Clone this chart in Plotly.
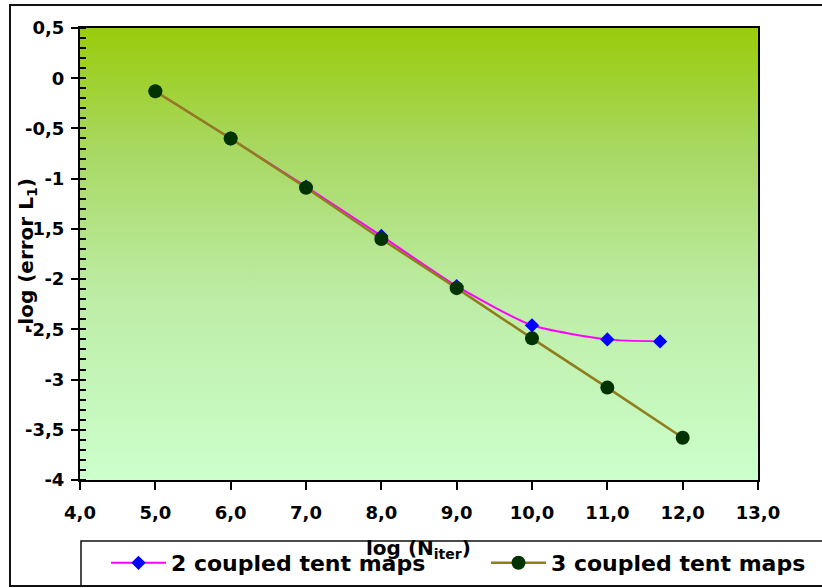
import plotly.graph_objects as go

# ---- data ----
x_two = [5.0, 6.0, 7.0, 8.0, 9.0, 10.0, 11.0, 11.7]
y_two = [-0.13, -0.60, -1.08, -1.57, -2.07, -2.46, -2.60, -2.62]
x_three = [5.0, 6.0, 7.0, 8.0, 9.0, 10.0, 11.0, 12.0]
y_three = [-0.13, -0.60, -1.09, -1.60, -2.09, -2.59, -3.08, -3.58]
name_two = "2 coupled tent maps"
name_three = "3 coupled tent maps"

x_tickvals = [4, 5, 6, 7, 8, 9, 10, 11, 12, 13]
x_ticktext = ["4,0", "5,0", "6,0", "7,0", "8,0", "9,0", "10,0", "11,0", "12,0", "13,0"]
y_tickvals = [0.5, 0, -0.5, -1, -1.5, -2, -2.5, -3, -3.5, -4]
y_ticktext = ["0,5", "0", "-0,5", "-1", "-1,5", "-2", "-2,5", "-3", "-3,5", "-4"]
X_RANGE = [4, 13]
Y_RANGE = [-4, 0.5]

FONT = "DejaVu Sans"
W, H = 822, 588
ML, MR, MT, MB = 80, 64, 28, 108
PW, PH = W - ML - MR, H - MT - MB


def px(xp):
    return (xp - ML) / PW


def py(yp):
    return (H - MB - yp) / PH


LEG_FONT = dict(family=FONT, size=22, color="black", weight="bold")

fig = go.Figure()

# gradient background of the plot area
fig.add_trace(go.Scatter(
    x=[X_RANGE[0], X_RANGE[1], X_RANGE[1], X_RANGE[0], X_RANGE[0]],
    y=[Y_RANGE[0], Y_RANGE[0], Y_RANGE[1], Y_RANGE[1], Y_RANGE[0]],
    mode="lines", fill="toself", line=dict(width=0),
    fillgradient=dict(type="vertical",
                      colorscale=[[0, "#ccffcc"], [0.4, "#bdeda6"],
                                  [0.73, "#a8d862"], [1, "#99cc0a"]]),
    hoverinfo="skip", showlegend=False))

fig.add_trace(go.Scatter(
    x=x_two, y=y_two, name=name_two, mode="lines+markers",
    line=dict(color="#ff00ff", width=2, shape="spline", smoothing=0.6),
    marker=dict(symbol="diamond", color="#0000ff", size=11),
    legend="legend"))

fig.add_trace(go.Scatter(
    x=x_three, y=y_three, name=name_three, mode="lines+markers",
    line=dict(color="#8f7d1c", width=2.5),
    marker=dict(symbol="circle", color="#003300", size=14),
    legend="legend2"))

fig.update_layout(
    width=W, height=H,
    margin=dict(l=ML, r=MR, t=MT, b=MB, autoexpand=False),
    paper_bgcolor="white", plot_bgcolor="rgba(0,0,0,0)",
    font=dict(family=FONT, color="black"),
    showlegend=True,
    legend=dict(orientation="h", x=px(106), xanchor="left",
                y=py(563), yanchor="middle", font=LEG_FONT,
                bgcolor="rgba(0,0,0,0)", borderwidth=0, itemwidth=55),
    legend2=dict(orientation="h", x=px(486), xanchor="left",
                 y=py(563), yanchor="middle", font=LEG_FONT,
                 bgcolor="rgba(0,0,0,0)", borderwidth=0, itemwidth=55),
    shapes=[
        dict(type="rect", xref="paper", yref="paper",
             x0=px(10), x1=px(840), y0=py(586), y1=py(5),
             line=dict(color="#111", width=2), layer="above"),
        dict(type="rect", xref="paper", yref="paper",
             x0=px(81), x1=px(840), y0=py(586), y1=py(541),
             line=dict(color="#111", width=1.5), layer="above"),
    ],
    annotations=[
        dict(text="-log (error L<sub>1</sub>)", xref="paper", yref="paper",
             x=px(27), y=py(255), xanchor="center", yanchor="middle",
             textangle=-90, showarrow=False,
             font=dict(family=FONT, size=20, color="black", weight="bold")),
        dict(text="log (N<sub>iter</sub>)", xref="paper", yref="paper",
             x=px(418), y=py(549), xanchor="center", yanchor="middle",
             showarrow=False,
             font=dict(family=FONT, size=20, color="black", weight="bold")),
    ],
)

fig.update_xaxes(range=X_RANGE, tickvals=x_tickvals, ticktext=x_ticktext,
                 showgrid=False, zeroline=False,
                 showline=True, linecolor="black", linewidth=2, mirror=True,
                 ticks="outside", ticklen=8, tickwidth=1.5, tickcolor="black",
                 ticklabelstandoff=7,
                 tickfont=dict(family=FONT, size=18, color="black", weight="bold"))

fig.update_yaxes(range=Y_RANGE, tickvals=y_tickvals, ticktext=y_ticktext,
                 showgrid=False, zeroline=False,
                 showline=True, linecolor="black", linewidth=2, mirror=True,
                 ticks="outside", ticklen=7, tickwidth=1.5, tickcolor="black",
                 ticklabelstandoff=3,
                 minor=dict(dtick=0.1, ticks="inside", ticklen=6,
                            tickwidth=1.5, tickcolor="black", showgrid=False),
                 tickfont=dict(family=FONT, size=18, color="black", weight="bold"))

fig.write_html("out.html",
               config={"displayModeBar": False},
               post_script="document.body.style.margin='0';"
                           "document.body.style.overflow='hidden';")
